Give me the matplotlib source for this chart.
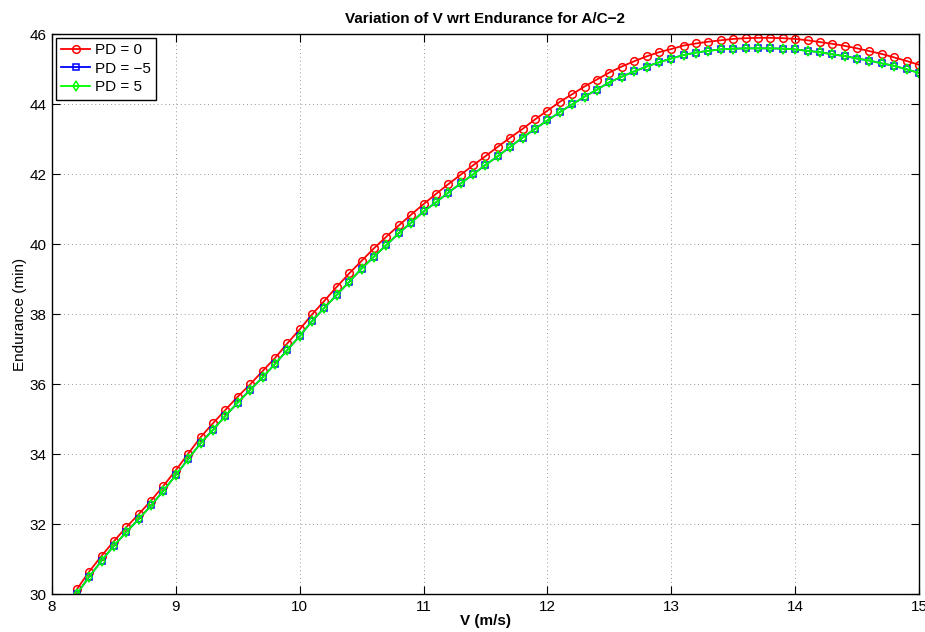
import matplotlib
matplotlib.use("Agg")
import matplotlib.pyplot as plt
import numpy as np

plt.rcParams['font.family'] = ['Liberation Sans', 'DejaVu Sans']

V = [8.2, 8.3, 8.4, 8.5, 8.6, 8.7, 8.8, 8.9,
     9.0, 9.1, 9.2, 9.3, 9.4, 9.5, 9.6, 9.7, 9.8, 9.9,
     10.0, 10.1, 10.2, 10.3, 10.4, 10.5, 10.6, 10.7, 10.8, 10.9,
     11.0, 11.1, 11.2, 11.3, 11.4, 11.5, 11.6, 11.7, 11.8, 11.9,
     12.0, 12.1, 12.2, 12.3, 12.4, 12.5, 12.6, 12.7, 12.8, 12.9,
     13.0, 13.1, 13.2, 13.3, 13.4, 13.5, 13.6, 13.7, 13.8, 13.9,
     14.0, 14.1, 14.2, 14.3, 14.4, 14.5, 14.6, 14.7, 14.8, 14.9,
     15.0]

E_pd0 = [30.13, 30.64, 31.09, 31.51, 31.91, 32.28, 32.67, 33.09,
         33.54, 34.01, 34.48, 34.88, 35.26, 35.64, 35.99, 36.37, 36.74, 37.16,
         37.56, 37.99, 38.38, 38.78, 39.16, 39.52, 39.88, 40.21, 40.53, 40.84,
         41.14, 41.43, 41.71, 41.98, 42.25, 42.51, 42.78, 43.04, 43.29, 43.56,
         43.81, 44.06, 44.28, 44.50, 44.70, 44.90, 45.07, 45.22, 45.36, 45.48,
         45.57, 45.67, 45.73, 45.78, 45.82, 45.86, 45.88, 45.89, 45.89, 45.88,
         45.86, 45.82, 45.77, 45.72, 45.66, 45.59, 45.51, 45.43, 45.33, 45.23,
         45.12]

E_pdp5 = [30.00, 30.49, 30.95, 31.38, 31.77, 32.14, 32.53, 32.95,
          33.40, 33.86, 34.31, 34.69, 35.09, 35.47, 35.83, 36.19, 36.57, 36.97,
          37.37, 37.80, 38.18, 38.55, 38.92, 39.30, 39.64, 39.97, 40.31, 40.61,
          40.93, 41.19, 41.47, 41.73, 41.99, 42.26, 42.51, 42.78, 43.04, 43.29,
          43.53, 43.77, 43.99, 44.21, 44.41, 44.62, 44.78, 44.93, 45.07, 45.19,
          45.30, 45.40, 45.47, 45.52, 45.56, 45.58, 45.59, 45.59, 45.59, 45.58,
          45.56, 45.52, 45.48, 45.42, 45.37, 45.30, 45.24, 45.16, 45.09, 44.99,
          44.89]

E_pdm5 = list(E_pdp5)

labels = ["PD = 0", "PD = \u22125", "PD = 5"]

fig = plt.figure(figsize=(9.25, 6.32), dpi=100)
ax = fig.add_axes([0.0562, 0.0601, 0.9373, 0.8861])

ax.plot(V, E_pd0, '-o', color='red', lw=1.3, ms=5.5, mfc='none', mew=1.1, label=labels[0])
ax.plot(V, E_pdm5, '-s', color='blue', lw=1.3, ms=4, mfc='none', mew=1.1, label=labels[1])
ax.plot(V, E_pdp5, '-d', color='#00ff00', lw=1.3, ms=5, mfc='none', mew=1.1, label=labels[2])

ax.set_xlim(8, 15)
ax.set_ylim(30, 46)
ax.set_xticks(np.arange(8, 16, 1))
ax.set_yticks(np.arange(30, 47, 2))
ax.tick_params(direction='in', top=True, right=True, labelsize=11, length=6, width=0.8, pad=4)
ax.grid(True, linestyle=(0, (1, 3)), color='#999999', linewidth=0.7)
for s in ax.spines.values():
    s.set_linewidth(1.0)

ax.set_title("Variation of V wrt Endurance for A/C\u22122", fontsize=11, fontweight='bold', pad=8)
ax.set_xlabel("V (m/s)", fontsize=11, fontweight='bold', labelpad=0)
ax.set_ylabel("Endurance (min)", fontsize=11, labelpad=2)

leg = ax.legend(loc='upper left', fontsize=11, fancybox=False, framealpha=1,
                edgecolor='black', borderaxespad=0.25, handlelength=1.9,
                borderpad=0.35, labelspacing=0.3, handletextpad=0.3)
leg.get_frame().set_linewidth(1.0)

fig.savefig("out.png", dpi=100)
